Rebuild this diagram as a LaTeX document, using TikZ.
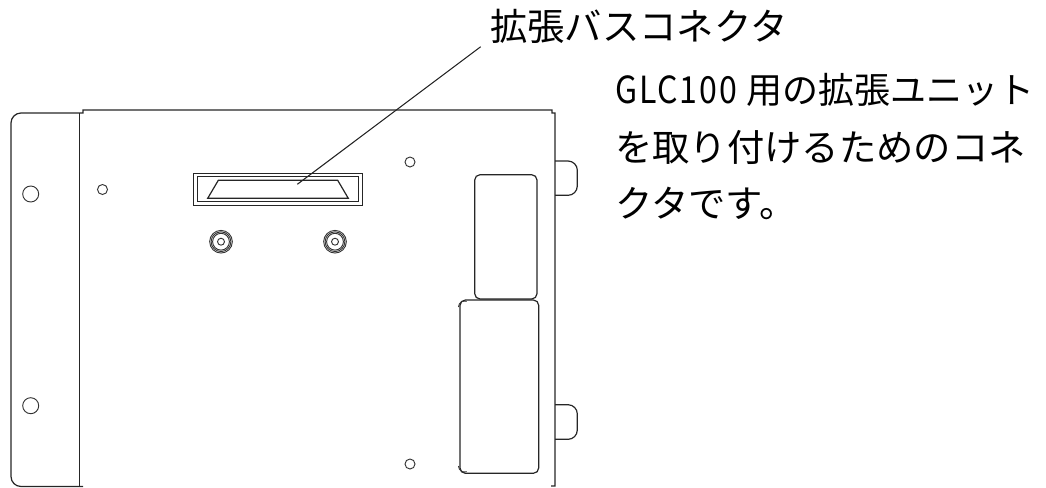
\documentclass[tikz,border=0pt]{standalone}
\usepackage{fontspec}
\setmainfont{Noto Sans CJK JP}
\newfontfamily\narrowlatin[FakeStretch=0.86,LetterSpace=5]{Noto Sans CJK JP}
\tikzset{
  part/.style={draw=black!85,line width=0.9pt},
  thin part/.style={draw=black!80,line width=0.7pt},
  caption/.style={anchor=west,inner sep=0pt,font=\fontsize{28pt}{28pt}\selectfont},
  leader/.style={draw=black!85,line width=0.8pt}
}
\begin{document}
\begin{tikzpicture}[x=0.75pt,y=-0.75pt]
\useasboundingbox (0,0) rectangle (1046,487);
% body
\draw[part] (83,486.5) -- (21,486.5) arc[start angle=-90,end angle=-180,radius=7.5pt] -- (11,123) arc[start angle=180,end angle=90,radius=7.5pt] -- (79.5,113) -- (83,113) -- (83,110) -- (552,110) -- (552,113) -- (555,113) -- (555,486) -- (551,486);
\draw[part] (79.5,113) -- (79.5,486.5);
% screw holes
\draw[thin part] (30.7,194) circle[radius=6pt];
\draw[thin part] (30.7,405.7) circle[radius=6pt];
\draw[thin part] (102.5,189.5) circle[radius=3.75pt];
\draw[thin part] (410,162) circle[radius=3.75pt];
\draw[thin part] (410,464) circle[radius=3.75pt];
% connector
\draw[part] (193.3,173.3) rectangle (362.7,205.3);
\draw[part] (197.3,176.7) rectangle (358.7,201.7);
\draw[part] (207.7,198.3) -- (348.3,198.3) -- (337.7,180.3) -- (218.3,180.3) -- cycle;
% bolts
\foreach \cx in {221,335}{
  \foreach \r in {8.5pt,7.4pt,6.3pt}{\draw[thin part] (\cx,241.7) circle[radius=\r];}
  \draw[thin part] (\cx,241.7) circle[radius=2.6pt];
}
% tabs
\draw[part] (555,161) -- (568,161) arc[start angle=90,end angle=0,radius=7pt] -- (577.3,186) arc[start angle=0,end angle=-90,radius=7pt] -- (555,195.3);
\draw[part] (555,404.7) -- (568,404.7) arc[start angle=90,end angle=0,radius=7pt] -- (577.3,430) arc[start angle=0,end angle=-90,radius=7pt] -- (555,439.3);
% ports
\draw[part,rounded corners=4pt] (474.7,174.7) rectangle (537,299);
\draw[part,rounded corners=4pt] (460,300) rectangle (538.7,473.3);
\draw[thin part] (458.5,307) arc[start angle=180,end angle=70,radius=4.5pt];
\draw[thin part] (458.5,466) arc[start angle=180,end angle=290,radius=4.5pt];
% labels
\node[caption] (title) at (490,26) {拡張バスコネクタ};
\coordinate (tip) at (297.3,184.3);
\coordinate (leaderstart) at (480.7,46.7);
\draw[leader] (leaderstart) -- (tip);
\node[caption] (l1) at (615,90) {{\narrowlatin GLC100}\hspace{0.26em}{\fontsize{27pt}{27pt}\selectfont 用の拡張ユニット}};
\node[caption] (l2) at (615,147) {を取り付けるためのコネ};
\node[caption] (l3) at (615,203) {クタです。};
\end{tikzpicture}
\end{document}
